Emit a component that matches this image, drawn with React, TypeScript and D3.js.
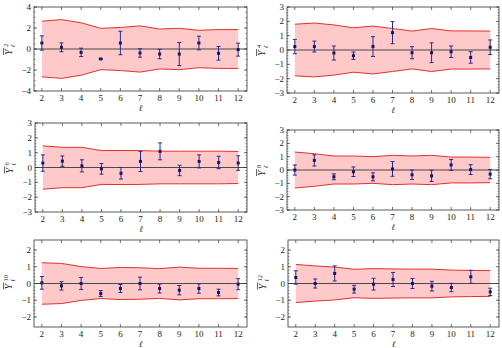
import * as d3 from "d3";
import { useEffect, useRef } from "react";

// multipole index l = 2..12
const ells = [2, 3, 4, 5, 6, 7, 8, 9, 10, 11, 12];

// superscript m of each panel (Y bar ^m _l)
const orders = [2, 4, 6, 8, 10, 12];

// measured values
const values2 = [0.57, 0.16, -0.32, -0.95, 0.57, -0.38, -0.48, -0.48, 0.57, -0.41, -0.06];
const values4 = [0.24, 0.24, -0.21, -0.4, 0.24, 1.21, -0.19, -0.19, -0.12, -0.52, 0.19];
const values6 = [0.3, 0.43, 0.11, -0.09, -0.39, 0.41, 1.09, -0.2, 0.41, 0.34, 0.3];
const values8 = [0, 0.72, -0.51, -0.13, -0.51, 0.08, -0.36, -0.44, 0.38, 0.03, -0.31];
const values10 = [0.04, -0.14, 0, -0.6, -0.3, 0, -0.3, -0.4, -0.3, -0.54, -0.04];
const values12 = [0.36, 0, 0.6, -0.34, -0.04, 0.24, 0, -0.16, -0.24, 0.4, -0.5];

// error bar half widths
const errors2 = [0.68, 0.42, 0.4, 0.05, 1.12, 0.4, 0.45, 1.1, 0.65, 0.65, 0.62];
const errors4 = [0.5, 0.38, 0.49, 0.26, 0.69, 0.77, 0.42, 0.69, 0.4, 0.4, 0.51];
const errors6 = [0.55, 0.35, 0.41, 0.36, 0.39, 0.68, 0.57, 0.35, 0.44, 0.42, 0.49];
const errors8 = [0.38, 0.42, 0.22, 0.36, 0.3, 0.55, 0.36, 0.42, 0.41, 0.37, 0.35];
const errors10 = [0.38, 0.25, 0.36, 0.18, 0.24, 0.38, 0.27, 0.28, 0.28, 0.2, 0.33];
const errors12 = [0.4, 0.27, 0.45, 0.23, 0.35, 0.42, 0.3, 0.29, 0.25, 0.39, 0.22];

// upper edge of the shaded band (lower edge is its mirror)
const band2 = [2.65, 2.8, 2.5, 1.97, 2.05, 2.2, 1.9, 1.97, 1.78, 1.85, 1.85];
const band4 = [1.8, 1.88, 1.75, 1.55, 1.67, 1.5, 1.32, 1.5, 1.33, 1.33, 1.32];
const band6 = [1.46, 1.36, 1.36, 1.14, 1.15, 1.14, 1.1, 1.1, 1.1, 1.1, 1.08];
const band8 = [1.35, 1.22, 1.05, 1.05, 1.0, 1.1, 1.05, 1.1, 0.97, 0.97, 0.95];
const band10 = [1.24, 1.2, 1.01, 0.9, 0.96, 0.94, 0.89, 0.98, 0.91, 0.91, 0.9];
const band12 = [1.14, 1.05, 0.98, 0.85, 0.89, 0.87, 0.86, 0.86, 0.8, 0.78, 0.77];

// y tick labels per panel
const yTicks4 = [-4, -2, 0, 2, 4];
const yTicks3 = [-3, -2, -1, 0, 1, 2, 3];
const yTicks2 = [-2, -1, 0, 1, 2];

const allValues = [values2, values4, values6, values8, values10, values12];
const allErrors = [errors2, errors4, errors6, errors8, errors10, errors12];
const allBands = [band2, band4, band6, band8, band10, band12];

export default function App() {
  const ref = useRef<SVGSVGElement | null>(null);

  useEffect(() => {
    if (!ref.current) return;
    const svg = d3.select(ref.current);
    svg.selectAll("*").remove();

    const W = 502;
    const H = 348;
    svg.attr("width", W).attr("height", H).attr("viewBox", `0 0 ${W} ${H}`);

    /* -----------------------------
        PANEL FRAMES
    ----------------------------- */
    const frames = [
      { x: 34, y: 7, w: 213, h: 84, dom: [-4, 4], ticks: yTicks4, minor: 0.5 },
      { x: 287, y: 7, w: 212, h: 86, dom: [-3, 3], ticks: yTicks3, minor: 0.2 },
      { x: 35, y: 123, w: 212, h: 89, dom: [-3, 3], ticks: yTicks3, minor: 0.2 },
      { x: 287, y: 130, w: 212, h: 80, dom: [-3, 3], ticks: yTicks3, minor: 0.2 },
      { x: 34, y: 240, w: 213, h: 87, dom: [-2.6, 2.6], ticks: yTicks2, minor: 0.2 },
      { x: 288, y: 240, w: 211, h: 87, dom: [-2.6, 2.6], ticks: yTicks2, minor: 0.2 },
    ];

    const font = "'Liberation Serif', 'DejaVu Serif', serif";

    frames.forEach((f, i) => {
      const g = svg.append("g");
      const x = d3.scaleLinear().domain([1.6, 12.45]).range([f.x, f.x + f.w]);
      const y = d3.scaleLinear().domain(f.dom).range([f.y + f.h, f.y]);

      const vals = allValues[i];
      const errs = allErrors[i];
      const band = allBands[i];

      /* band */
      const area = d3
        .area<number>()
        .x((_, j) => x(ells[j]))
        .y0((d) => y(-d))
        .y1((d) => y(d));
      g.append("path")
        .datum(band)
        .attr("d", area)
        .attr("fill", "#ffc9c9");

      const upper = d3
        .line<number>()
        .x((_, j) => x(ells[j]))
        .y((d) => y(d));
      const lower = d3
        .line<number>()
        .x((_, j) => x(ells[j]))
        .y((d) => y(-d));
      g.append("path").datum(band).attr("d", upper).attr("fill", "none").attr("stroke", "#e3302c").attr("stroke-width", 1);
      g.append("path").datum(band).attr("d", lower).attr("fill", "none").attr("stroke", "#e3302c").attr("stroke-width", 1);

      /* zero line */
      g.append("line")
        .attr("x1", f.x)
        .attr("x2", f.x + f.w)
        .attr("y1", y(0))
        .attr("y2", y(0))
        .attr("stroke", "#4a4a4a")
        .attr("stroke-width", 1.2);

      /* error bars */
      const pts = ells.map((l, j) => ({ l, v: vals[j], e: errs[j] }));
      const eb = g.selectAll(".eb").data(pts).enter().append("g");
      eb.append("line")
        .attr("x1", (d) => x(d.l))
        .attr("x2", (d) => x(d.l))
        .attr("y1", (d) => y(d.v + d.e))
        .attr("y2", (d) => y(d.v - d.e))
        .attr("stroke", "#2a2a8c")
        .attr("stroke-width", 1);
      [1, -1].forEach((s) => {
        eb.append("line")
          .attr("x1", (d) => x(d.l) - 2)
          .attr("x2", (d) => x(d.l) + 2)
          .attr("y1", (d) => y(d.v + s * d.e))
          .attr("y2", (d) => y(d.v + s * d.e))
          .attr("stroke", "#2a2a8c")
          .attr("stroke-width", 1);
      });
      eb.append("rect")
        .attr("x", (d) => x(d.l) - 1.5)
        .attr("y", (d) => y(d.v) - 1.5)
        .attr("width", 3)
        .attr("height", 3)
        .attr("fill", "#16165e");

      /* frame */
      g.append("rect")
        .attr("x", f.x)
        .attr("y", f.y)
        .attr("width", f.w)
        .attr("height", f.h)
        .attr("fill", "none")
        .attr("stroke", "#333")
        .attr("stroke-width", 0.8);

      /* x ticks */
      ells.forEach((l) => {
        g.append("line").attr("x1", x(l)).attr("x2", x(l)).attr("y1", f.y + f.h).attr("y2", f.y + f.h - 3).attr("stroke", "#333").attr("stroke-width", 0.7);
        g.append("line").attr("x1", x(l)).attr("x2", x(l)).attr("y1", f.y).attr("y2", f.y + 3).attr("stroke", "#333").attr("stroke-width", 0.7);
        g.append("text")
          .attr("x", x(l))
          .attr("y", f.y + f.h + 10)
          .attr("text-anchor", "middle")
          .style("font-family", font)
          .style("font-size", "9px")
          .attr("fill", "#222")
          .text(l);
      });
      g.append("text")
        .attr("x", f.x + f.w / 2)
        .attr("y", f.y + f.h + 20)
        .attr("text-anchor", "middle")
        .style("font-family", font)
        .style("font-style", "italic")
        .style("font-size", "8.5px")
        .attr("fill", "#222")
        .text("ℓ");

      /* y ticks */
      const minorTicks = d3.range(f.ticks[0], f.ticks[f.ticks.length - 1] + 1e-6, f.minor);
      minorTicks.forEach((t) => {
        g.append("line").attr("x1", f.x).attr("x2", f.x + 1.5).attr("y1", y(t)).attr("y2", y(t)).attr("stroke", "#333").attr("stroke-width", 0.5);
        g.append("line").attr("x1", f.x + f.w).attr("x2", f.x + f.w - 1.5).attr("y1", y(t)).attr("y2", y(t)).attr("stroke", "#333").attr("stroke-width", 0.5);
      });
      f.ticks.forEach((t) => {
        g.append("line").attr("x1", f.x).attr("x2", f.x + 3).attr("y1", y(t)).attr("y2", y(t)).attr("stroke", "#333").attr("stroke-width", 0.7);
        g.append("line").attr("x1", f.x + f.w).attr("x2", f.x + f.w - 3).attr("y1", y(t)).attr("y2", y(t)).attr("stroke", "#333").attr("stroke-width", 0.7);
        g.append("text")
          .attr("x", f.x - 3)
          .attr("y", y(t) + 3)
          .attr("text-anchor", "end")
          .style("font-family", font)
          .style("font-size", "9px")
          .attr("fill", "#222")
          .text(t < 0 ? `\u2212${-t}` : `${t}`);
      });

      /* y label: Y bar ^m _l, rotated */
      const lx = f.x - 22;
      const ly = f.y + f.h / 2;
      const lab = g.append("g").attr("transform", `translate(${lx},${ly}) rotate(-90)`);
      lab.append("text")
        .attr("x", -6)
        .attr("y", 0)
        .style("font-family", font)
        .style("font-style", "italic")
        .style("font-size", "10px")
        .attr("fill", "#222")
        .text("Y");
      lab.append("line")
        .attr("x1", -6)
        .attr("x2", 1)
        .attr("y1", -8.5)
        .attr("y2", -8.5)
        .attr("stroke", "#222")
        .attr("stroke-width", 0.7);
      lab.append("text")
        .attr("x", 2)
        .attr("y", -4)
        .style("font-family", font)
        .style("font-size", "6.5px")
        .attr("fill", "#222")
        .text(orders[i]);
      lab.append("text")
        .attr("x", 2)
        .attr("y", 3)
        .style("font-family", font)
        .style("font-style", "italic")
        .style("font-size", "6.5px")
        .attr("fill", "#222")
        .text("ℓ");
    });
  }, []);

  return <svg ref={ref} style={{ position: "absolute", left: 0, top: 0 }} />;
}
